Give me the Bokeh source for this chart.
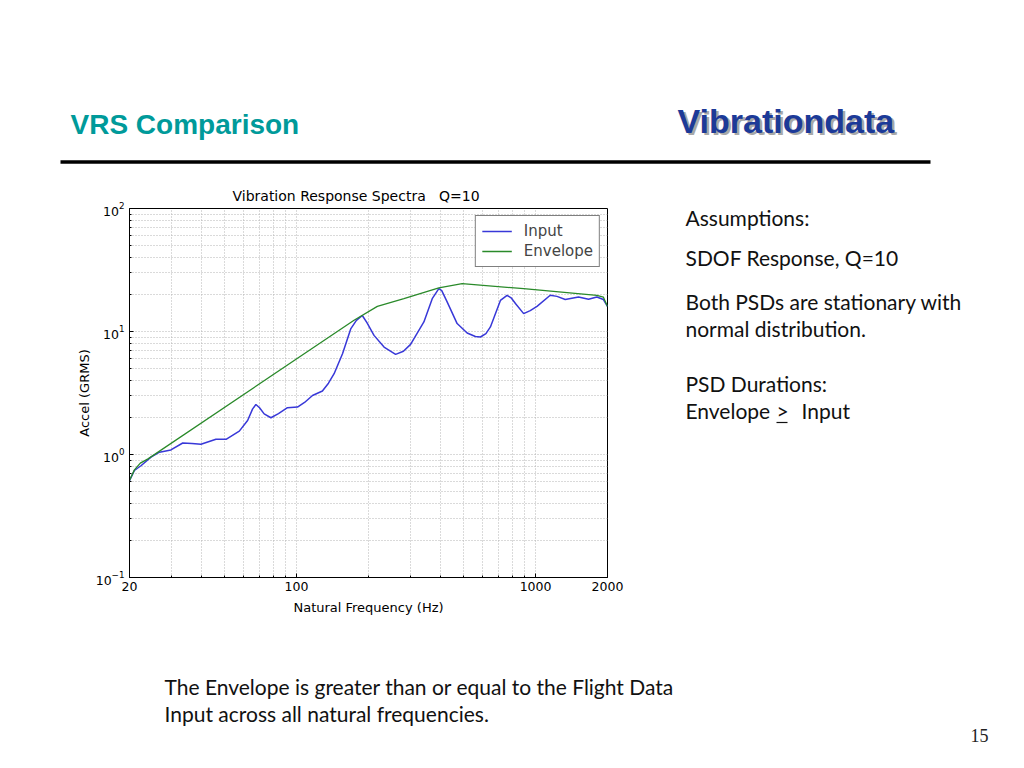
from bokeh.plotting import figure
from bokeh.models import Range1d, FixedTicker, NumeralTickFormatter, LogTickFormatter
from bokeh.layouts import column, row
from bokeh.embed import file_html
from bokeh.resources import INLINE
from bokeh.core.properties import value

# ---------------- data ----------------
freq_input = [20, 20.97, 22.4, 24.6, 26.7, 29.8, 33.4, 36.5, 39.8, 46.0, 50.7, 57.6,
              62.4, 65.5, 67.6, 70.0, 73.2, 78.1, 84, 91.6, 100.9, 108, 116.6, 128.3,
              136, 143.6, 155.7, 168.5, 178, 188.4, 197, 210.9, 232.3, 259.7, 280, 300,
              341, 369.6, 393.8, 405, 426.6, 469.8, 517.3, 560, 587.9, 620, 647.4,
              712.8, 760, 790, 823.8, 891.7, 950, 1014, 1152, 1230, 1331, 1513, 1666,
              1805, 1923, 2000]
accel_input = [0.614, 0.741, 0.814, 0.951, 1.045, 1.09, 1.24, 1.23, 1.21, 1.33, 1.33, 1.55,
               1.89, 2.35, 2.55, 2.4, 2.14, 1.99, 2.15, 2.40, 2.43, 2.65, 3.02, 3.28,
               3.8, 4.54, 6.60, 10.5, 12.3, 13.5, 11.8, 9.3, 7.48, 6.52, 6.9, 7.86,
               11.95, 18.5, 22.3, 21.5, 17.4, 11.6, 9.72, 9.1, 9.02, 9.6, 10.9,
               17.9, 19.7, 18.8, 16.9, 13.97, 14.8, 16.0, 19.7, 19.3, 18.2, 19.1, 18.3,
               19.1, 18.2, 16.0]

freq_env = [20, 20.97, 22.2, 23.9, 174, 217.8, 281.3, 393.8, 493, 891.7, 1805, 1923, 2000]
accel_env = [0.614, 0.75, 0.85, 0.922, 12.33, 16.0, 18.5, 22.6, 24.5, 22.3, 19.7, 19.0, 16.0]

x_major_ticks = [20, 100, 1000, 2000]
x_minor_ticks = [30, 40, 50, 60, 70, 80, 90, 200, 300, 400, 500, 600, 700, 800, 900]
y_major_ticks = [0.1, 1, 10, 100]
y_minor_ticks = [m * d for d in (0.1, 1, 10) for m in range(2, 10)]

title_text = "Vibration Response Spectra\u00a0\u00a0 Q=10"
header_left = "VRS Comparison"
header_right = "Vibrationdata"
side_lines = ["Assumptions:", "SDOF Response, Q=10", "Both PSDs are stationary with",
              "normal distribution.", "PSD Durations:"]
footer_lines = ["The Envelope is greater than or equal to the Flight Data",
                "Input across all natural frequencies."]
page_number = "15"

BODY_FONT = value("Lato")


def page_fig(x0, x1, y0, y1, fy0=None, fy1=None, top=0, bottom=0):
    fy0 = y0 if fy0 is None else fy0
    fy1 = y1 if fy1 is None else fy1
    f = figure(width=x1 - x0, height=y1 - y0, x_range=Range1d(x0, x1),
               y_range=Range1d(fy1, fy0), output_backend="svg", toolbar_location=None,
               min_border=0, min_border_top=top, min_border_bottom=bottom,
               x_axis_location=None, y_axis_location=None, title=None)
    f.grid.visible = False
    f.outline_line_color = None
    f.background_fill_color = "white"
    f.border_fill_color = "white"
    return f


# ---------------- header ----------------
header = page_fig(0, 1024, 0, 180)
header.text(x=[70], y=[124], text=[header_left], text_font=value("Liberation Sans"),
            text_font_style="bold", text_font_size="28px", text_color="#009a9a",
            text_baseline="alphabetic", text_align="left")
header.text(x=[679.5], y=[122.5], text=[header_right], text_font=value("Liberation Sans"),
            text_font_style="bold", text_font_size="34px", text_color="#a8a8a8",
            text_baseline="alphabetic", text_align="left")
header.text(x=[677], y=[120], text=[header_right], text_font=value("Liberation Sans"),
            text_font_style="bold", text_font_size="34px", text_color="#1c3a98",
            text_baseline="alphabetic", text_align="left")
header.segment(x0=[60], y0=[161.5], x1=[930], y1=[161.5], line_color="black", line_width=3.5)

# ---------------- chart ----------------
p = figure(width=640, height=450, x_axis_type="log", y_axis_type="log",
           x_range=Range1d(20, 2000), y_range=Range1d(0.1, 100),
           output_backend="svg", toolbar_location=None,
           min_border_left=129, min_border_right=33, min_border_top=28, min_border_bottom=53,
           title=title_text)
p.title.align = "left"
p.title.offset = 103
p.title.text_font = "DejaVu Sans"
p.title.text_font_size = "14px"
p.title.text_font_style = "normal"
p.title.text_color = "black"

p.xaxis.ticker = FixedTicker(ticks=x_major_ticks, minor_ticks=x_minor_ticks)
p.yaxis.ticker = FixedTicker(ticks=y_major_ticks, minor_ticks=y_minor_ticks)
p.xaxis.formatter = NumeralTickFormatter(format="0")
p.yaxis.formatter = LogTickFormatter()

for ax in (p.xaxis[0], p.yaxis[0]):
    ax.major_tick_in = 4
    ax.major_tick_out = 0
    ax.minor_tick_in = 2
    ax.minor_tick_out = 0
    ax.axis_line_color = "black"
    ax.major_tick_line_color = "black"
    ax.minor_tick_line_color = "black"
    ax.major_label_text_font = "DejaVu Sans"
    ax.major_label_text_font_size = "12.5px"
    ax.major_label_text_color = "black"
    ax.axis_label_text_font = "DejaVu Sans"
    ax.axis_label_text_font_size = "13px"
    ax.axis_label_text_font_style = "normal"
    ax.axis_label_text_color = "black"

p.xaxis.axis_label = "Natural Frequency (Hz)"
p.yaxis.axis_label = "Accel (GRMS)"
p.xaxis.major_label_standoff = 4
p.yaxis.major_label_standoff = 5
p.xaxis.axis_label_standoff = 6
p.yaxis.axis_label_standoff = 1

p.outline_line_color = "black"
p.outline_line_width = 1
p.outline_line_alpha = 1

for g in (p.xgrid[0], p.ygrid[0]):
    g.grid_line_color = "#b4b4b4"
    g.grid_line_dash = "1 2"
    g.grid_line_width = 1
    g.minor_grid_line_color = "#b4b4b4"
    g.minor_grid_line_dash = "1 2"
    g.minor_grid_line_width = 1

p.line(freq_input, accel_input, line_color="#3838d8", line_width=1.5, legend_label="Input")
p.line(freq_env, accel_env, line_color="#2a8a2a", line_width=1.3, legend_label="Envelope")

lg = p.legend[0]
lg.location = "top_right"
lg.margin = 7
lg.padding = 6
lg.spacing = 2
lg.glyph_width = 30
lg.glyph_height = 16
lg.label_height = 16
lg.label_standoff = 12
lg.label_text_font = "DejaVu Sans"
lg.label_text_font_size = "15px"
lg.border_line_color = "black"
lg.border_line_width = 1
lg.background_fill_alpha = 1

# ---------------- right-hand text ----------------
# the row aligns this figure's frame with the chart's frame (page y 208..577)
side = page_fig(640, 1024, 180, 630, fy0=208, fy1=577, top=28, bottom=53)
side_y = [217, 257, 301, 328, 383]
side.text(x=[685] * len(side_lines), y=side_y, text=side_lines, text_font=BODY_FONT,
          text_font_size="21px", text_color="#111111", text_baseline="middle",
          text_align="left")
side.text(x=[685, 776, 801], y=[410, 410, 410], text=["Envelope", ">", "Input"],
          text_font=BODY_FONT, text_font_size="21px", text_color="#111111",
          text_baseline="middle", text_align="left")
side.segment(x0=[776], y0=[422], x1=[787], y1=[422], line_color="#111111", line_width=1.2)

# ---------------- footer ----------------
footer = page_fig(0, 1024, 630, 768)
footer.text(x=[164, 164], y=[686, 713], text=footer_lines, text_font=BODY_FONT,
            text_font_size="21px", text_color="#111111", text_baseline="middle",
            text_align="left")
footer.text(x=[988], y=[735], text=[page_number], text_font=value("Liberation Serif"),
            text_font_size="18px", text_color="#222222", text_baseline="middle",
            text_align="right")

layout = column(header, row(p, side), footer)

open("out.html", "w").write(file_html(layout, INLINE))
